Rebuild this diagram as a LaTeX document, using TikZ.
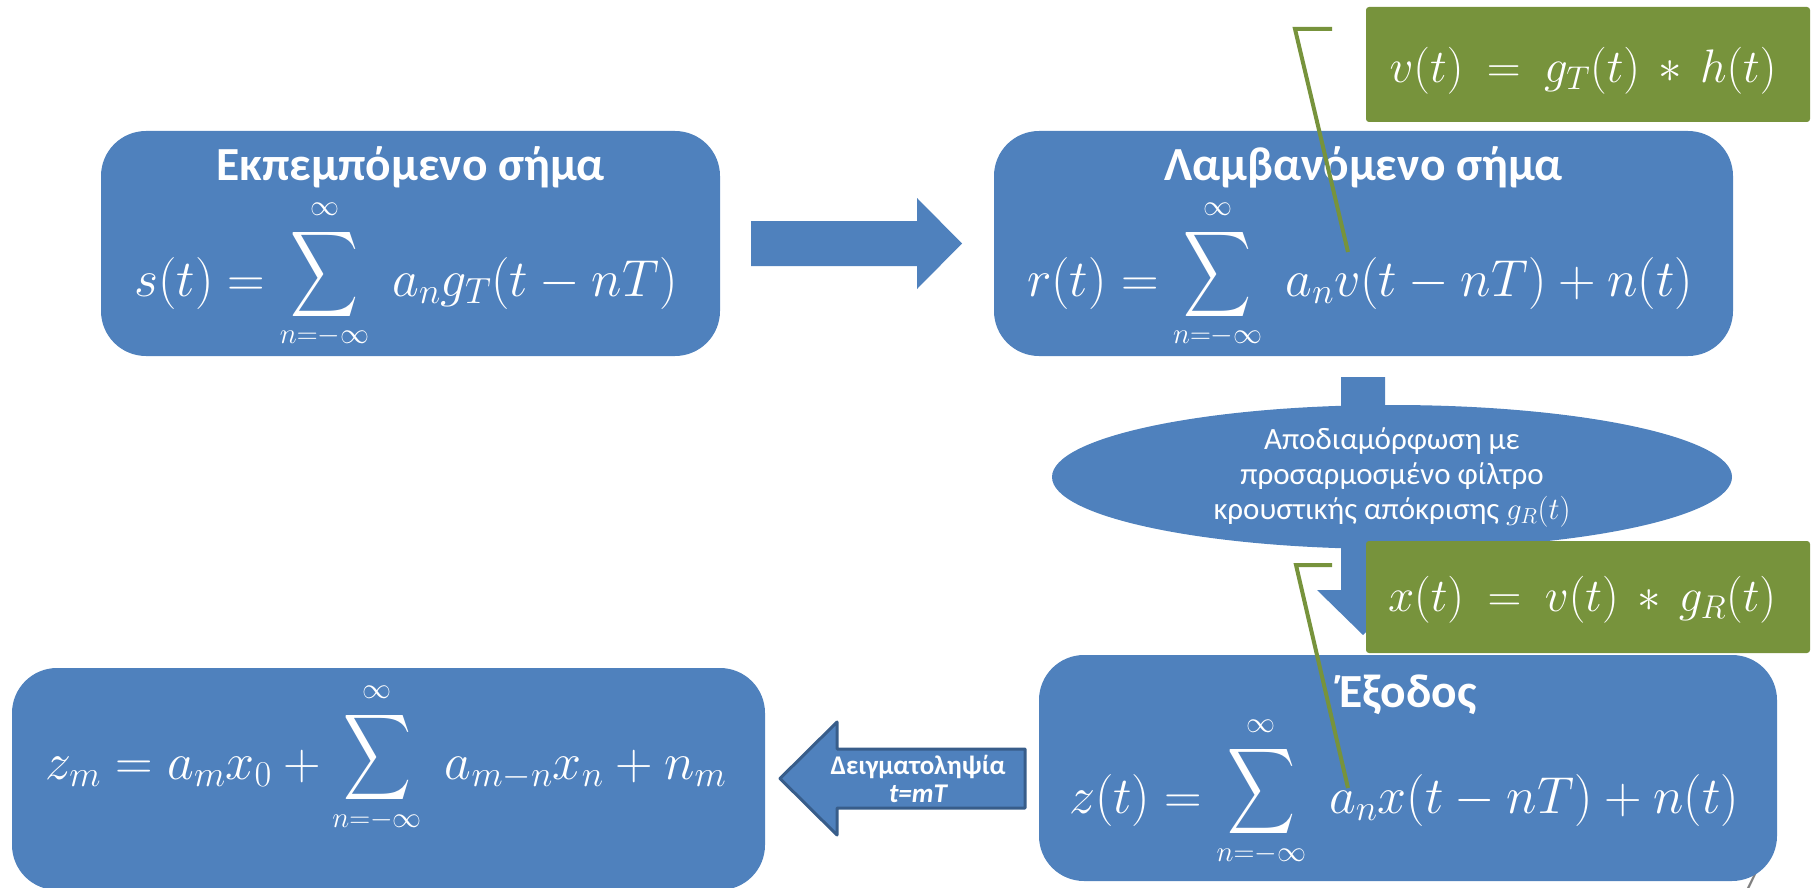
\RequirePackage{fix-cm}
\documentclass[tikz,border=0pt]{standalone}
\usepackage{exscale}
\usepackage[no-math]{fontspec}
\setmainfont{Carlito}
\usepackage{graphicx}
\usetikzlibrary{shapes.geometric}
\definecolor{boxblue}{HTML}{4F81BD}
\definecolor{calloutgreen}{HTML}{77933C}
\definecolor{arrowedge}{HTML}{385D8A}
\newcommand\limfont{\fontsize{29}{30}\selectfont}
\newcommand\Bsum[2]{\mathop{\raisebox{8.5pt}{$\vcenter{\offinterlineskip\halign{\hfil##\hfil\cr
  \limfont$#2$\cr\noalign{\kern11pt}
  \resizebox*{68pt}{96pt}{$\displaystyle\sum$}\cr\noalign{\kern5pt}
  \limfont$#1$\cr}}$}}\;}
\newcommand\widemath{\thickmuskip=9mu\relax\medmuskip=7mu\relax}
\begin{document}
\begin{tikzpicture}[x=1pt,y=-1pt,
  bluebox/.style={draw=none,fill=boxblue,rounded corners=45pt,inner sep=0pt},
  greenbox/.style={draw=none,fill=calloutgreen,rounded corners=3pt,inner sep=0pt},
  titletext/.style={text=white,font=\fontsize{47.5}{56}\selectfont\bfseries,anchor=base,inner sep=0pt},
  formula/.style={text=white,font=\fontsize{52}{60}\selectfont,anchor=base,inner sep=0pt},
  gformula/.style={text=white,font=\fontsize{47}{54}\selectfont,anchor=base,inner sep=0pt},
  callout/.style={draw=calloutgreen,line width=4pt},
  blockarrow/.style={fill=boxblue,draw=none}
]
\useasboundingbox (0,0) rectangle (1818,888);
\begin{scope}
\clip (0,0) rectangle (1818,888);
% page number (mostly hidden)
\node[text=gray,font=\fontsize{30}{32}\selectfont,anchor=base,inner sep=0pt] (pg) at (1750,891) {7};
% boxes
\node[bluebox,minimum width=619pt,minimum height=225pt] (b1) at (410.5,243.5) {};
\node[bluebox,minimum width=739pt,minimum height=225pt] (b2) at (1363.5,243.5) {};
\node[bluebox,minimum width=738pt,minimum height=226pt] (b3) at (1408,768) {};
\node[bluebox,minimum width=753pt,minimum height=222pt] (b4) at (388.5,779) {};
% right arrow b1 -> b2
\path[blockarrow] (751,221) -- (917,221) -- (917,198) -- (962,243.5) -- (917,289) -- (917,266) -- (751,266) -- cycle;
% down arrow b2 -> b3
\path[blockarrow] (1341,377) -- (1385,377) -- (1385,590) -- (1409,590) -- (1363,635) -- (1317,590) -- (1341,590) -- cycle;
% ellipse
\node[ellipse,fill=boxblue,draw=none,minimum width=680pt,minimum height=144pt,inner sep=0pt,
  text=white,align=center,font=\fontsize{31}{35}\selectfont] (el) at (1392,477)
  {Αποδιαμόρφωση με\\προσαρμοσμένο φίλτρο\\κρουστικής απόκρισης $g_R(t)$};
% left arrow b3 -> b4
\path[fill=boxblue,draw=arrowedge,line width=3pt,line join=round]
  (1025,749) -- (837,749) -- (837,722) -- (780,778.5) -- (837,835) -- (837,808) -- (1025,808) -- cycle;
\node[text=white,align=center,inner sep=0pt,font=\fontsize{27}{28}\selectfont\bfseries] (samp) at (918,779)
  {Δειγματοληψία\\\itshape t=mT};
% green boxes
\node[greenbox,minimum width=444pt,minimum height=115pt] (g1) at (1588,64.5) {};
\node[greenbox,minimum width=444pt,minimum height=112pt] (g2) at (1588,597) {};
% titles
\node[titletext] (t1) at (410.5,180) {Εκπεμπόμενο σήμα};
\node[titletext] (t2) at (1363.5,180) {Λαμβανόμενο σήμα};
\node[titletext] (t3) at (1408,707) {Έξοδος};
% formulas
\node[formula] (f1) at (406,296) {$s(t) = \Bsum{n{=}{-}\infty}{\infty} a_n g_T(t-nT)$};
\node[formula] (f2) at (1360,296) {$r(t) = \Bsum{n{=}{-}\infty}{\infty} a_n v(t-nT)+n(t)$};
\node[formula] (f3) at (1404,813) {$z(t) = \Bsum{n{=}{-}\infty}{\infty} a_n x(t-nT)+n(t)$};
\node[formula] (f4) at (386,779) {$z_m = a_m x_0 + \Bsum{n{=}{-}\infty}{\infty} a_{m-n}x_n + n_m$};
\node[gformula] (gf1) at (1583,82.5) {\widemath$v(t) = g_T(t) \ast h(t)$};
\node[gformula] (gf2) at (1582,611) {\widemath$x(t) = v(t) \ast g_R(t)$};
% callout lines
\coordinate (c1h) at (1332,29);
\coordinate (c1k) at (1295,29);
\coordinate (c1e) at (1348,252);
\draw[callout] (c1h) -- (c1k) -- (c1e);
\coordinate (c2h) at (1332,565);
\coordinate (c2k) at (1296,565);
\coordinate (c2e) at (1348,788);
\draw[callout] (c2h) -- (c2k) -- (c2e);
\end{scope}
\end{tikzpicture}
\end{document}
